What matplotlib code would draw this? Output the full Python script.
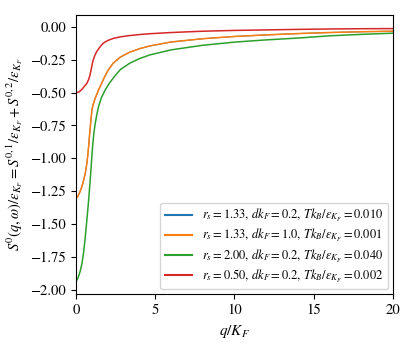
import matplotlib
matplotlib.use("Agg")
import matplotlib.pyplot as plt

plt.rcParams["font.family"] = "serif"
plt.rcParams["font.serif"] = ["STIXGeneral", "Liberation Serif", "DejaVu Serif"]
plt.rcParams["mathtext.fontset"] = "stix"

# values
q_red = [0, 0.2, 0.38, 0.55, 0.69, 0.8, 0.88, 0.95, 1.0, 1.05, 1.12, 1.2, 1.3, 1.5, 1.72, 2.0, 2.35, 2.8,
         3.4, 4.04, 4.67, 6, 8, 10, 12, 14, 16, 18, 20]
s_red = [-0.50, -0.495, -0.475, -0.45, -0.43, -0.40, -0.37, -0.33, -0.30, -0.27, -0.24, -0.215, -0.19,
         -0.155, -0.124, -0.104, -0.088, -0.076, -0.066, -0.058, -0.052, -0.043, -0.033, -0.027, -0.023,
         -0.019, -0.016, -0.014, -0.013]

q_orange = [0, 0.1, 0.17, 0.27, 0.38, 0.48, 0.59, 0.7, 0.8, 0.86, 0.9, 0.95, 1.01, 1.1, 1.22, 1.43, 1.6,
            1.75, 2.0, 2.35, 2.8, 3.4, 4.04, 4.67, 6, 8, 10, 12, 14, 16, 18, 20]
s_orange = [-1.303, -1.295, -1.278, -1.25, -1.214, -1.17, -1.113, -1.03, -0.91, -0.82, -0.77, -0.70,
            -0.63, -0.585, -0.542, -0.479, -0.435, -0.395, -0.335, -0.276, -0.23, -0.192, -0.165, -0.145,
            -0.115, -0.090, -0.073, -0.061, -0.051, -0.043, -0.037, -0.033]

q_green = [0, 0.12, 0.27, 0.38, 0.48, 0.58, 0.69, 0.8, 0.9, 0.98, 1.05, 1.13, 1.22, 1.32, 1.43, 1.6, 1.85,
           2.1, 2.48, 2.8, 3.4, 4.04, 4.67, 6, 8, 10, 12, 14, 16, 18, 20]
s_green = [-1.937, -1.915, -1.86, -1.80, -1.72, -1.61, -1.468, -1.32, -1.163, -1.03, -0.91, -0.81,
           -0.732, -0.665, -0.606, -0.54, -0.479, -0.43, -0.37, -0.325, -0.276, -0.240, -0.213, -0.175,
           -0.140, -0.116, -0.099, -0.085, -0.068, -0.057, -0.048]

# blue is hidden under orange in the reference
q_blue = q_orange
s_blue = s_orange

labels = [
    r"$r_s = 1.33,\, dk_F = 0.2,\, Tk_B/\varepsilon_{K_F} = 0.010$",
    r"$r_s = 1.33,\, dk_F = 1.0,\, Tk_B/\varepsilon_{K_F} = 0.001$",
    r"$r_s = 2.00,\, dk_F = 0.2,\, Tk_B/\varepsilon_{K_F} = 0.040$",
    r"$r_s = 0.50,\, dk_F = 0.2,\, Tk_B/\varepsilon_{K_F} = 0.002$",
]

fig = plt.figure(figsize=(4.15, 3.46), dpi=100)
ax = fig.add_axes([0.183, 0.150, 0.764, 0.808])

ax.plot(q_blue, s_blue, color="C0", lw=0.8, label=labels[0])
ax.plot(q_orange, s_orange, color="C1", lw=1.1, label=labels[1])
ax.plot(q_green, s_green, color="C2", lw=1.1, label=labels[2])
ax.plot(q_red, s_red, color="C3", lw=1.1, label=labels[3])

ax.set_xlim(0, 20)
ax.set_ylim(-2.034, 0.094)
ax.set_xticks([0, 5, 10, 15, 20])
ax.set_yticks([0, -0.25, -0.5, -0.75, -1.0, -1.25, -1.5, -1.75, -2.0])
ax.tick_params(labelsize=10.5)
ax.set_xlabel(r"$q/K_F$", fontsize=11)
ax.set_ylabel(r"$S^0(q,\omega)/\varepsilon_{K_F} = S^{0,1}/\varepsilon_{K_F} + S^{0,2}/\varepsilon_{K_F}$",
              fontsize=10.5)
leg = ax.legend(loc="lower right", fontsize=9, labelspacing=0.25, borderpad=0.35,
                handlelength=2.2, borderaxespad=0.4)
for h in leg.legend_handles:
    h.set_linewidth(1.5)

fig.savefig("out.png", dpi=100)
